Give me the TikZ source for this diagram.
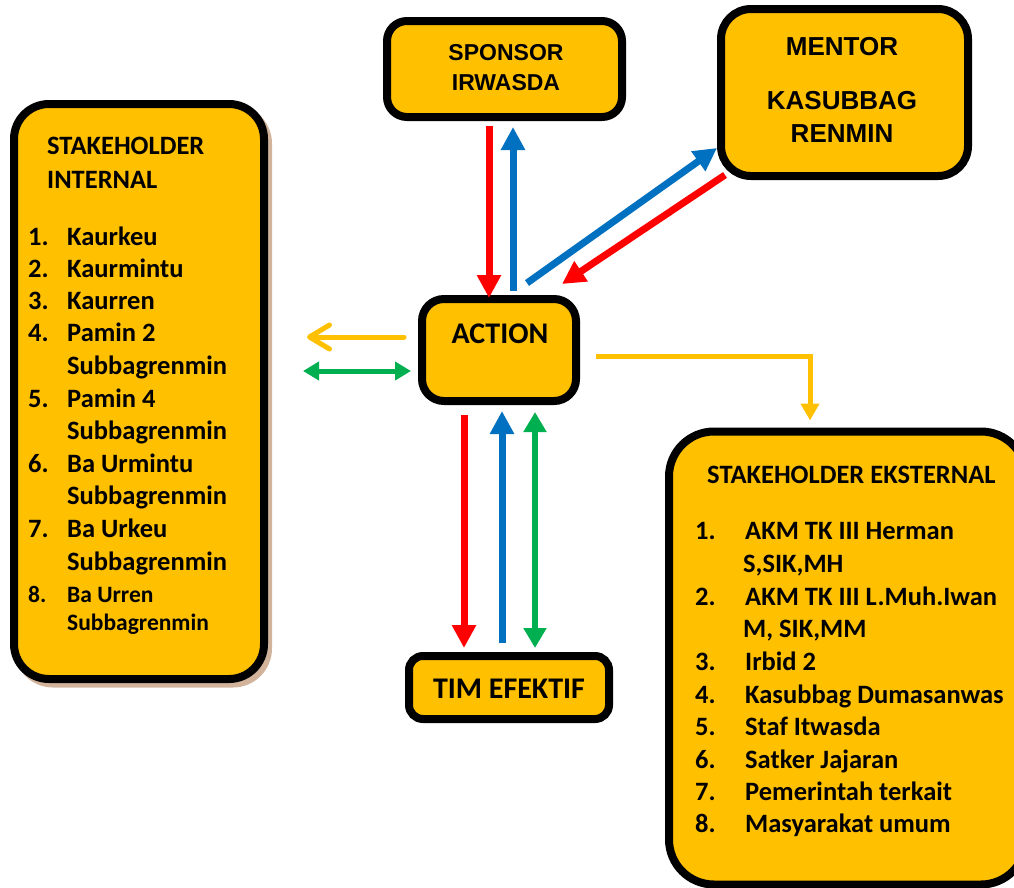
\documentclass[tikz,border=0pt]{standalone}
\usepackage{fontspec}
\setmainfont{Carlito}
\newfontfamily\arialf{Liberation Sans}
\usetikzlibrary{arrows.meta}
\definecolor{boxy}{HTML}{FFC000}
\definecolor{ared}{HTML}{FF0000}
\definecolor{ablue}{HTML}{0070C0}
\definecolor{agreen}{HTML}{00B050}
\definecolor{shadowc}{HTML}{D2B49C}
\begin{document}
\begin{tikzpicture}[x=1pt,y=-1pt,
  boxshape/.style={rectangle, draw=black, line width=8pt, fill=boxy, inner sep=0pt},
  lt/.style={anchor=base west, inner sep=0pt, font=\bfseries\fontsize{26.5}{30}\selectfont},
  ls/.style={anchor=base west, inner sep=0pt, font=\bfseries\fontsize{23.5}{27}\selectfont},
  arialtext/.style={anchor=base, inner sep=0pt, font=\arialf\bfseries\fontsize{23}{27}\selectfont},
  mentortext/.style={anchor=base, inner sep=0pt, font=\arialf\bfseries\fontsize{26}{30}\selectfont},
  calibritext/.style={anchor=base, inner sep=0pt, font=\bfseries\fontsize{30}{34}\selectfont},
  bigarrow/.style={line width=7pt, -{Triangle[length=23pt,width=23pt]}},
  gvarrow/.style={agreen, line width=6pt, {Triangle[length=20pt,width=22pt]}-{Triangle[length=20pt,width=22pt]}},
  ]
\useasboundingbox (0,0) rectangle (1014,887);
\clip (0,0) rectangle (1014,887);

% boxes
\node[boxshape, draw=shadowc, fill=shadowc, rounded corners=35pt, minimum width=250pt, minimum height=575pt] (lsh) at (143,396) {};
\node[boxshape, rounded corners=35pt, minimum width=250pt, minimum height=575pt] (left) at (139,391.5) {};
\node[boxshape, rounded corners=20pt, minimum width=235pt, minimum height=96pt] (spon) at (504.5,69) {};
\node[boxshape, rounded corners=30pt, minimum width=247pt, minimum height=167pt] (ment) at (844.5,92.5) {};
\node[boxshape, rounded corners=22pt, minimum width=154pt, minimum height=102pt] (act) at (499,350) {};
\node[boxshape, rounded corners=14pt, minimum width=200pt, minimum height=63pt] (tim) at (509,687.5) {};
\node[boxshape, rounded corners=45pt, minimum width=357pt, minimum height=453pt] (ext) at (847.5,658) {};

% box texts
\node[arialtext] (sp1) at (506,60) {SPONSOR};
\node[arialtext] (sp2) at (506,90) {IRWASDA};
\node[mentortext] (mn1) at (842,55) {MENTOR};
\node[mentortext] (mn2) at (842,109) {KASUBBAG};
\node[mentortext] (mn3) at (842,142) {RENMIN};
\node[calibritext] (actt) at (500,343) {ACTION};
\node[calibritext] (timt) at (509,698) {TIM EFEKTIF};

% left list
\node[lt] (lh1) at (47,154) {STAKEHOLDER};
\node[lt] (lh2) at (47,188) {INTERNAL};
\foreach \n/\t/\y [count=\k] in {1./Kaurkeu/245, 2./Kaurmintu/277, 3./Kaurren/309, 4./Pamin 2/341, 5./Pamin 4/407, 6./Ba Urmintu/472, 7./Ba Urkeu/537}{
  \node[lt] (ln\k) at (28,\y) {\n};
  \node[lt] (lt\k) at (67,\y) {\t};
}
\foreach \y [count=\k] in {374,439,504,570}{
  \node[lt] (ls\k) at (67,\y) {Subbagrenmin};
}
\node[ls] (ln8) at (28,602) {8.};
\node[ls] (lt8) at (67,602) {Ba Urren};
\node[ls] (ls5) at (67,630) {Subbagrenmin};

% external list
\node[lt] (eh) at (707,483) {STAKEHOLDER EKSTERNAL};
\foreach \n/\t/\y [count=\k] in {1./AKM TK III Herman/539, 2./AKM TK III L.Muh.Iwan/605, 3./Irbid 2/670, 4./Kasubbag Dumasanwas/703, 5./Staf Itwasda/735, 6./Satker Jajaran/768, 7./Pemerintah terkait/800, 8./Masyarakat umum/832}{
  \node[lt] (en\k) at (695,\y) {\n};
  \node[lt] (et\k) at (745,\y) {\t};
}
\node[lt] (ec1) at (743,572) {S,SIK,MH};
\node[lt] (ec2) at (743,637) {M, SIK,MM};

% connectors
\draw[ared, bigarrow] ([shift={(-15.5pt,-5pt)}]spon.south) -- ([shift={(-10pt,-3pt)}]act.north);
\draw[ablue, bigarrow] ([shift={(14pt,4pt)}]act.north) -- ([shift={(8.5pt,-6pt)}]spon.south);
\draw[ablue, bigarrow] ([shift={(28pt,12pt)}]act.north) -- ([yshift=-55.5pt]ment.west);
\draw[ared, bigarrow] ([shift={(8pt,5pt)}]ment.south west) -- ([shift={(63pt,11pt)}]act.north);

\draw[boxy, line width=5pt, line cap=round, -{Straight Barb[length=20pt,width=24pt,round]}] ([shift={(-14pt,13pt)}]act.west) -- ([shift={(39pt,54.5pt)}]left.east);
\draw[agreen, line width=5pt, {Triangle[length=16pt,width=18pt]}-{Triangle[length=16pt,width=18pt]}] ([shift={(35pt,20.5pt)}]left.east) -- ([shift={(-7pt,-21pt)}]act.west);
\draw[boxy, line width=5pt, -{Triangle[length=17pt,width=18pt]}] ([shift={(16pt,-6pt)}]act.east) -| ([shift={(-37.5pt,7pt)}]ext.north);

\draw[ared, bigarrow] ([shift={(-35pt,-10pt)}]act.south) -- ([shift={(-45pt,4pt)}]tim.north);
\draw[ablue, bigarrow] ([shift={(-7pt,9pt)}]tim.north) -- ([shift={(3pt,-6pt)}]act.south);
\draw[gvarrow] ([shift={(36pt,-7pt)}]act.south) -- ([shift={(26pt,4pt)}]tim.north);
\end{tikzpicture}
\end{document}
